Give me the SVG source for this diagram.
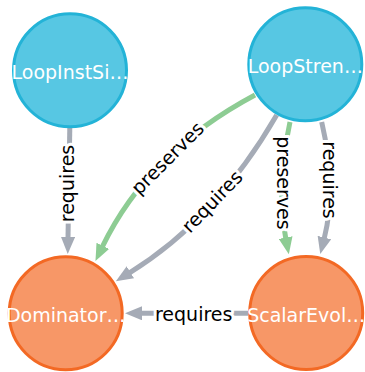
<svg xmlns="http://www.w3.org/2000/svg" width="365" height="372" viewBox="0 0 365 372">
<style>
.edge{fill:none;stroke-width:5;stroke-linecap:butt}
.req{stroke:#a5abb6}
.pre{stroke:#8dcc93}
.lbl{font-family:"DejaVu Sans",sans-serif;font-size:19px;fill:#000;text-anchor:middle;stroke:#fff;stroke-width:6;stroke-linejoin:round;paint-order:stroke}
.blue circle{fill:#57c7e3;stroke:#23b3d7;stroke-width:3}
.orange circle{fill:#f79767;stroke:#f36924;stroke-width:3}
.cap{font-family:"DejaVu Sans",sans-serif;font-size:19px;fill:#fff;text-anchor:middle}
</style>
<defs>
<marker id="ag" markerUnits="userSpaceOnUse" markerWidth="17" markerHeight="14" viewBox="0 0 17 14" refX="1" refY="7" orient="auto"><path d="M0,0 L17,7 L0,14 Z" fill="#a5abb6"/></marker>
<marker id="ap" markerUnits="userSpaceOnUse" markerWidth="17" markerHeight="14" viewBox="0 0 17 14" refX="1" refY="7" orient="auto"><path d="M0,0 L17,7 L0,14 Z" fill="#8dcc93"/></marker>
</defs>
<g id="connectors">
<path class="edge req" d="M69.8,128 L68,238" marker-end="url(#ag)"/>
<path class="edge pre" d="M255,95 Q148,152 102.4,246.7" marker-end="url(#ap)"/>
<path class="edge req" d="M276.7,115 Q216.6,219 129.5,272.8" marker-end="url(#ag)"/>
<path class="edge pre" d="M290,122 Q276,188 285.8,238.5" marker-end="url(#ap)"/>
<path class="edge req" d="M321.7,122 Q337,188 324.2,238.5" marker-end="url(#ag)"/>
<path class="edge req" d="M248,313.3 L141,313.3" marker-end="url(#ag)"/>
<text class="lbl" transform="translate(68.9,183.5) rotate(-90)" y="5">requires</text>
<text class="lbl" transform="translate(168,158.6) rotate(-45)" y="6">preserves</text>
<text class="lbl" transform="translate(212.6,201.9) rotate(-46)" y="6">requires</text>
<text class="lbl" transform="translate(283,183) rotate(90)" y="6">preserves</text>
<text class="lbl" transform="translate(329,180) rotate(90)" y="6">requires</text>
<text class="lbl" x="193.7" y="321">requires</text>
</g>
<g id="LoopInstSi" class="blue"><circle cx="70" cy="70.3" r="56.5"/><text class="cap" x="70" y="79.3">LoopInstSi…</text></g>
<g id="LoopStren" class="blue"><circle cx="305.3" cy="64.3" r="56.5"/><text class="cap" x="305.3" y="73.3">LoopStren…</text></g>
<g id="Dominator" class="orange"><circle cx="65.7" cy="313.3" r="56.5"/><text class="cap" x="65.7" y="322.3">Dominator…</text></g>
<g id="ScalarEvol" class="orange"><circle cx="306.2" cy="313" r="56.5"/><text class="cap" x="306.2" y="322">ScalarEvol…</text></g>
</svg>
